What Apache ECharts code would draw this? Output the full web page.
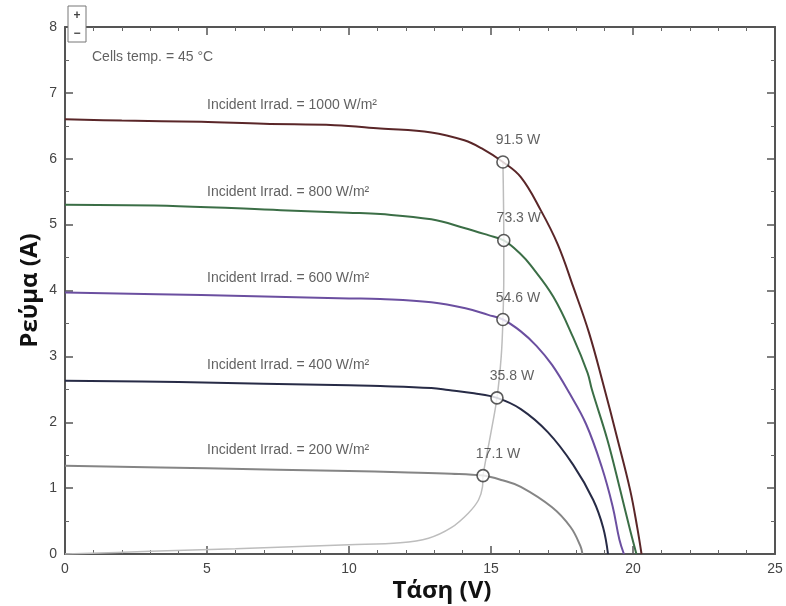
<!DOCTYPE html>
<html>
<head>
<meta charset="utf-8">
<script src="https://cdn.jsdelivr.net/npm/echarts@6/dist/echarts.min.js"></script>
<style>html,body{margin:0;padding:0;background:#fff}#c{width:786px;height:606px}</style>
</head>
<body>
<div id="c"></div>
<script>
// ---- Data ----
const xTickValues = [0, 5, 10, 15, 20, 25];
const yTickValues = [0, 1, 2, 3, 4, 5, 6, 7, 8];

const v1000 = [0, 2, 4.8, 7, 9.5, 11.1, 12.9, 14.06, 14.66, 15.42, 16.05, 16.75, 17.35, 17.9, 18.45, 18.95, 19.45, 19.9, 20.15, 20.3];
const i1000 = [6.60, 6.58, 6.56, 6.53, 6.51, 6.46, 6.40, 6.28, 6.16, 5.95, 5.72, 5.22, 4.70, 4.05, 3.36, 2.58, 1.75, 0.97, 0.40, 0];

const v800 = [0, 4, 7.6, 9.96, 11.1, 12.9, 14.06, 14.9, 15.45, 16.05, 16.4, 17.2, 17.9, 18.4, 18.55, 19.1, 19.55, 19.9, 20.12];
const i800 = [5.30, 5.28, 5.22, 5.18, 5.16, 5.08, 4.95, 4.84, 4.76, 4.55, 4.38, 3.90, 3.28, 2.75, 2.50, 1.73, 0.97, 0.36, 0];

const v600 = [0, 4.8, 10, 11.1, 12.9, 14.1, 14.9, 15.42, 16.05, 16.6, 17.15, 17.75, 18.35, 18.9, 19.28, 19.52, 19.68];
const i600 = [3.97, 3.93, 3.88, 3.87, 3.82, 3.73, 3.63, 3.56, 3.38, 3.16, 2.87, 2.45, 1.97, 1.32, 0.73, 0.22, 0];

const v400 = [0, 4, 10, 11.1, 12.9, 13.5, 14.4, 15.21, 16.05, 17.0, 17.9, 18.6, 18.95, 19.12];
const i400 = [2.63, 2.61, 2.56, 2.55, 2.52, 2.49, 2.44, 2.37, 2.20, 1.85, 1.35, 0.82, 0.40, 0];

const v200 = [0, 5, 10, 11.8, 13.6, 14.72, 15.4, 16.05, 17.15, 17.8, 18.15, 18.22];
const i200 = [1.34, 1.30, 1.26, 1.24, 1.22, 1.19, 1.12, 1.02, 0.71, 0.41, 0.12, 0];

const vLocus = [0, 3, 6, 10, 11.8, 12.8, 13.6, 14.2, 14.56, 14.7, 14.72, 14.98, 15.21, 15.36, 15.42, 15.45, 15.45, 15.42];
const iLocus = [0, 0.04, 0.08, 0.14, 0.17, 0.24, 0.40, 0.62, 0.82, 1.02, 1.19, 1.80, 2.37, 3.00, 3.56, 4.20, 4.76, 5.95];

const mppV = [15.42, 15.45, 15.42, 15.21, 14.72];
const mppI = [5.95, 4.76, 3.56, 2.37, 1.19];
const mppPower = ['91.5 W', '73.3 W', '54.6 W', '35.8 W', '17.1 W'];

const irradLabels = ['Incident Irrad. = 1000 W/m²', 'Incident Irrad. = 800 W/m²', 'Incident Irrad. = 600 W/m²', 'Incident Irrad. = 400 W/m²', 'Incident Irrad. = 200 W/m²'];
const irradLabelV = [5.0, 5.0, 5.0, 5.0, 5.0];
const irradLabelI = [6.81, 5.49, 4.19, 2.87, 1.58];

const tempLabel = 'Cells temp. = 45 °C';
const tempLabelV = 0.95;
const tempLabelI = 7.54;

const xTitle = 'Τάση (V)';
const yTitle = 'Ρεύμα (A)';

// ---- Build ----
const zip = (a, b) => a.map((x, k) => [x, b[k]]);
const curveColors = ['#5a2628', '#3b6e46', '#6b4fa0', '#272b46', '#858585'];
const curves = [[v1000, i1000], [v800, i800], [v600, i600], [v400, i400], [v200, i200]];

const font = 'Liberation Sans, Arial, sans-serif';
const frame = '#555';

function axisX(pos, labels) {
  return {
    type: 'value', min: 0, max: 25, interval: 5, position: pos,
    axisLine: { show: true, onZero: false, lineStyle: { color: frame, width: 2 } },
    axisTick: { show: true, inside: true, length: 8, lineStyle: { color: frame, width: 1.5 } },
    minorTick: { show: true, splitNumber: 5, length: 4, lineStyle: { color: '#666', width: 1 } },
    splitLine: { show: false },
    axisLabel: { show: labels, color: '#444', fontSize: 14, margin: 8, fontFamily: font,
      formatter: v => xTickValues.includes(v) ? String(v) : '' }
  };
}
function axisY(pos, labels) {
  return {
    type: 'value', min: 0, max: 8, interval: 1, position: pos,
    axisLine: { show: true, onZero: false, lineStyle: { color: frame, width: 2 } },
    axisTick: { show: true, inside: true, length: 8, lineStyle: { color: frame, width: 1.5 } },
    minorTick: { show: true, splitNumber: 2, length: 4, lineStyle: { color: '#666', width: 1 } },
    splitLine: { show: false },
    axisLabel: { show: labels, color: '#444', fontSize: 14, margin: 8, fontFamily: font,
      formatter: v => yTickValues.includes(v) ? String(v) : '' }
  };
}

const xb = axisX('bottom', true);
xb.name = xTitle; xb.nameLocation = 'middle'; xb.nameGap = 25; xb.nameMoveOverlap = false;
xb.nameTextStyle = { fontSize: 24, fontWeight: 'bold', color: '#111', fontFamily: 'Open Sans, Noto Sans, sans-serif', padding: [0, 0, 0, 44] };
const yl = axisY('left', true);
yl.name = yTitle; yl.nameLocation = 'middle'; yl.nameGap = 23; yl.nameMoveOverlap = false;
yl.nameTextStyle = { fontSize: 24, fontWeight: 'bold', color: '#111', fontFamily: 'Open Sans, Noto Sans, sans-serif' };

const series = [];
series.push({
  type: 'line', data: zip(vLocus, iLocus), smooth: 0.35, symbol: 'none',
  lineStyle: { color: '#bdbdbd', width: 1.5 }, z: 2, silent: true
});
curves.forEach((c, k) => {
  series.push({
    type: 'line', data: zip(c[0], c[1]), smooth: 0.4, symbol: 'none',
    lineStyle: { color: curveColors[k], width: 2 }, z: 3, silent: true
  });
});
series.push({
  type: 'scatter', data: zip(mppV, mppI), symbol: 'circle', symbolSize: 12, z: 5,
  itemStyle: { color: '#fff', borderColor: '#333', borderWidth: 1.6 },
  label: { show: true, position: 'top', distance: 8, offset: [15, 0], color: '#3a3a3a', fontSize: 14, fontFamily: font,
    formatter: p => mppPower[p.dataIndex] }
});
series.push({
  type: 'scatter', data: zip(irradLabelV, irradLabelI), symbolSize: 0, z: 6, silent: true,
  label: { show: true, position: 'right', distance: 0, color: '#3a3a3a', fontSize: 14, fontFamily: font,
    formatter: p => irradLabels[p.dataIndex] }
});
series.push({
  type: 'scatter', data: [[tempLabelV, tempLabelI]], symbolSize: 0, z: 6, silent: true,
  label: { show: true, position: 'right', distance: 0, color: '#3a3a3a', fontSize: 14, fontFamily: font,
    formatter: () => tempLabel }
});

const chart = echarts.init(document.getElementById('c'), null, { renderer: 'canvas' });
chart.setOption({
  backgroundColor: '#fff',
  animation: false,
  grid: { left: 65, right: 11, top: 27, bottom: 52, outerBoundsMode: 'none', containLabel: false },
  xAxis: [xb, axisX('top', false)],
  yAxis: [yl, axisY('right', false)],
  series: series,
  graphic: [
    { type: 'rect', shape: { x: 68, y: 6, width: 18, height: 36 }, style: { fill: '#fff', stroke: '#777', lineWidth: 1 }, z: 10 },
    { type: 'text', x: 77, y: 16, style: { text: '+', fill: '#444', fontSize: 12, fontWeight: 'bold', align: 'center', verticalAlign: 'middle' }, z: 11 },
    { type: 'text', x: 77, y: 34, style: { text: '−', fill: '#444', fontSize: 12, fontWeight: 'bold', align: 'center', verticalAlign: 'middle' }, z: 11 }
  ]
});
</script>
</body>
</html>
